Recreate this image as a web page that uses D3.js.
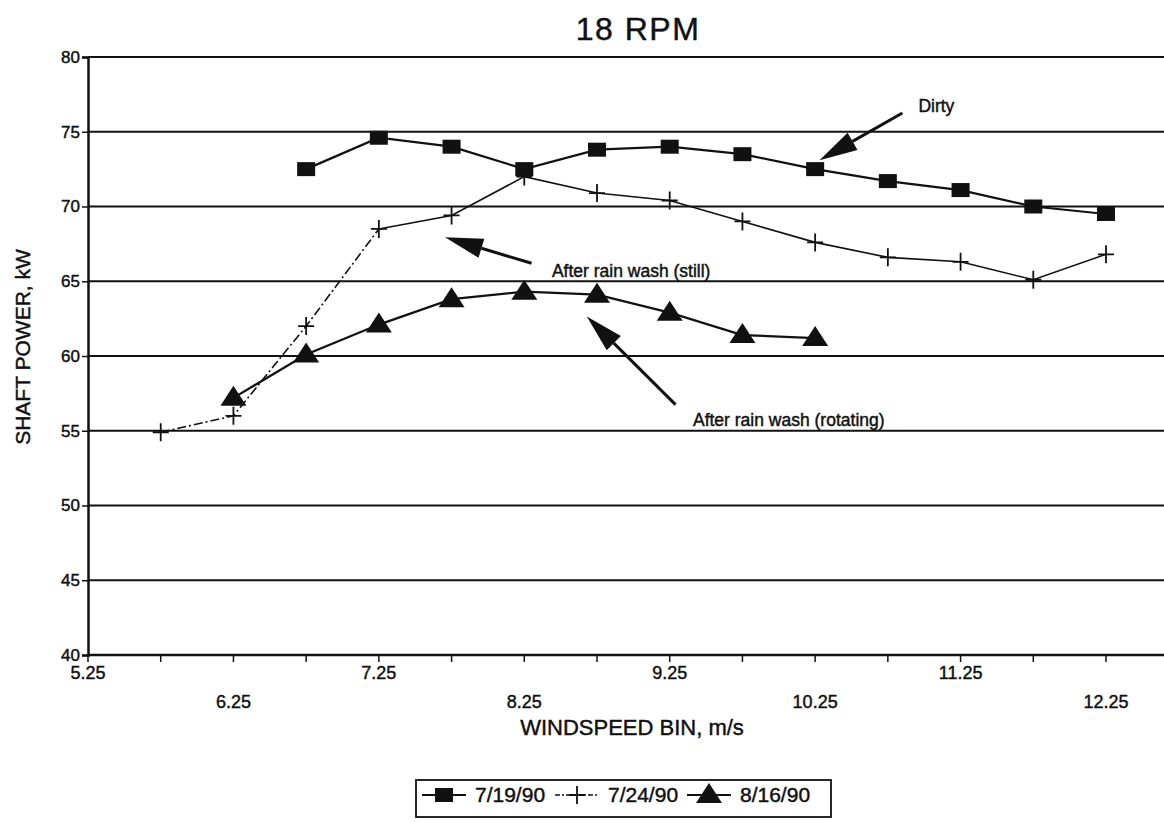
<!DOCTYPE html>
<html>
<head>
<meta charset="utf-8">
<script src="https://cdn.jsdelivr.net/npm/d3@7"></script>
<style>
  body { margin: 0; background: #fff; }
  svg { display: block; font-family: "Liberation Sans", Arial, Helvetica, sans-serif; }
  svg text { fill: #111; stroke: #111; stroke-width: 0.45px; }
  .grid line { stroke: #111; stroke-width: 2; }
</style>
</head>
<body>
<div id="chart"></div>
<script>
// wind speed bins (m/s) and shaft power (kW) per test date
var windBins = [5.75, 6.25, 6.75, 7.25, 7.75, 8.25, 8.75, 9.25, 9.75, 10.25, 10.75, 11.25, 11.75, 12.25]
var power0719 = [null, null, 72.5, 74.6, 74.0, 72.5, 73.8, 74.0, 73.5, 72.5, 71.7, 71.1, 70.0, 69.5]
var power0724 = [54.9, 56.0, 62.0, 68.5, 69.4, 72.0, 70.9, 70.4, 69.0, 67.6, 66.6, 66.3, 65.1, 66.8]
var power0816 = [null, 57.2, 60.1, 62.1, 63.8, 64.3, 64.1, 62.9, 61.4, 61.2, null, null, null, null]

var seriesNames = ['7/19/90', '7/24/90', '8/16/90']

var xTickLabels = [5.25, 6.25, 7.25, 8.25, 9.25, 10.25, 11.25, 12.25]
var xMinorTicks = [5.25, 5.75, 6.25, 6.75, 7.25, 7.75, 8.25, 8.75, 9.25, 9.75, 10.25, 10.75, 11.25, 11.75, 12.25]
var yTicks = [40, 45, 50, 55, 60, 65, 70, 75, 80]

// callouts, anchored in data units: [x, kW]
var notes = [
  {text: 'Dirty', at: [10.96, 76.3], tail: [10.85, 76.25], tip: [10.28, 73.1]},
  {text: 'After rain wash (still)', at: [8.44, 65.26], tail: [8.30, 66.2], tip: [7.705, 67.94]},
  {text: 'After rain wash (rotating)', at: [9.41, 55.34], tail: [9.29, 56.75], tip: [8.68, 62.65]}
]

var width = 1164, height = 822
var x = d3.scaleLinear().domain([5.25, 12.25]).range([88, 1106])
var y = d3.scaleLinear().domain([40, 80]).range([655, 57])

var svg = d3.select('#chart').append('svg')
    .attr('width', width)
    .attr('height', height)

// title
svg.append('text')
    .attr('x', 638).attr('y', 40)
    .attr('text-anchor', 'middle')
    .style('font-size', '32px')
    .style('letter-spacing', '1.5px')
    .text('18 RPM')

// horizontal grid lines
svg.append('g').attr('class', 'grid')
    .selectAll('line')
    .data(yTicks.slice(1))
    .enter().append('line')
    .attr('x1', x(5.25)).attr('x2', width)
    .attr('y1', function(d){ return y(d) })
    .attr('y2', function(d){ return y(d) })

// y axis
var yAxis = d3.axisLeft(y).tickValues(yTicks).tickSize(6).tickPadding(2)
var gy = svg.append('g')
    .attr('transform', 'translate(' + x(5.25) + ',0)')
    .call(yAxis)
gy.select('.domain').attr('stroke', '#111').attr('stroke-width', 2.5)
gy.selectAll('.tick line').attr('stroke', '#111').attr('stroke-width', 1.5)
gy.selectAll('.tick text').style('font-size', '17px')

// x axis: baseline and minor ticks
var gx = svg.append('g').attr('transform', 'translate(0,' + y(40) + ')')
gx.append('line')
    .attr('x1', x(5.25)).attr('x2', width)
    .attr('stroke', '#111').attr('stroke-width', 2.5)
gx.selectAll('.mtick')
    .data(xMinorTicks)
    .enter().append('line')
    .attr('class', 'mtick')
    .attr('x1', function(d){ return x(d) }).attr('x2', function(d){ return x(d) })
    .attr('y1', 0).attr('y2', 7)
    .attr('stroke', '#111').attr('stroke-width', 1.5)
gx.selectAll('.xlab')
    .data(xTickLabels)
    .enter().append('text')
    .attr('class', 'xlab')
    .attr('x', function(d){ return x(d) })
    .attr('y', function(d, i){ return i % 2 === 0 ? 24 : 53 })
    .attr('text-anchor', 'middle')
    .style('font-size', '18px')
    .text(function(d){ return d.toFixed(2) })

// axis titles
svg.append('text')
    .attr('x', 632).attr('y', 735)
    .attr('text-anchor', 'middle')
    .style('font-size', '22px')
    .text('WINDSPEED BIN, m/s')
svg.append('text')
    .attr('transform', 'translate(30,347) rotate(-90)')
    .attr('text-anchor', 'middle')
    .style('font-size', '21px')
    .text('SHAFT POWER, kW')

// marker shapes
function drawMarker(sel, kind) {
  if (kind === 'square') {
    sel.append('rect').attr('x', -9).attr('y', -7).attr('width', 18).attr('height', 14).attr('fill', '#111')
  } else if (kind === 'plus') {
    sel.append('path').attr('d', 'M-8,0H8M0,-9V9').attr('stroke', '#111').attr('stroke-width', 1.8).attr('fill', 'none')
  } else {
    sel.append('path').attr('d', 'M0,-12L13,8L-13,8Z').attr('fill', '#111')
  }
}

function toPoints(vals) {
  return windBins.map(function(b, i){ return {x: b, v: vals[i]} })
                 .filter(function(d){ return d.v !== null })
}

var line = d3.line().x(function(d){ return x(d.x) }).y(function(d){ return y(d.v) })

var series = [
  {name: seriesNames[0], pts: toPoints(power0719), marker: 'square', width: 2.2},
  {name: seriesNames[1], pts: toPoints(power0724), marker: 'plus', width: 1.6},
  {name: seriesNames[2], pts: toPoints(power0816), marker: 'triangle', width: 2.2}
]

var plot = svg.append('g')

series.forEach(function(s) {
  if (s.marker === 'plus') {
    // rising part drawn dash-dot, remainder solid
    plot.append('path')
        .attr('d', line(s.pts.filter(function(d){ return d.x <= 7.25 })))
        .attr('fill', 'none').attr('stroke', '#111').attr('stroke-width', s.width)
        .attr('stroke-dasharray', '9,3,2,3')
    plot.append('path')
        .attr('d', line(s.pts.filter(function(d){ return d.x >= 7.25 })))
        .attr('fill', 'none').attr('stroke', '#111').attr('stroke-width', s.width)
  } else {
    plot.append('path')
        .attr('d', line(s.pts))
        .attr('fill', 'none').attr('stroke', '#111').attr('stroke-width', s.width)
  }
  plot.selectAll(null)
      .data(s.pts)
      .enter().append('g')
      .attr('transform', function(d){ return 'translate(' + x(d.x) + ',' + y(d.v) + ')' })
      .each(function(){ drawMarker(d3.select(this), s.marker) })
})

// callouts with filled arrowheads
var ng = svg.append('g')
notes.forEach(function(n) {
  var tx = x(n.tail[0]), ty = y(n.tail[1])
  var px = x(n.tip[0]), py = y(n.tip[1])
  var ang = Math.atan2(ty - py, tx - px)
  var len = 38, half = 10
  var bx = px + Math.cos(ang) * len, by = py + Math.sin(ang) * len
  ng.append('line')
      .attr('x1', tx).attr('y1', ty).attr('x2', bx).attr('y2', by)
      .attr('stroke', '#111').attr('stroke-width', 3)
  var nx = -Math.sin(ang) * half, ny = Math.cos(ang) * half
  ng.append('path')
      .attr('d', 'M' + px + ',' + py + 'L' + (bx + nx) + ',' + (by + ny) + 'L' + (bx - nx) + ',' + (by - ny) + 'Z')
      .attr('fill', '#111')
  ng.append('text')
      .attr('x', x(n.at[0])).attr('y', y(n.at[1]))
      .style('font-size', '17.5px')
      .text(n.text)
})

// legend
var lg = svg.append('g').attr('transform', 'translate(416,780)')
lg.append('rect')
    .attr('width', 415).attr('height', 37)
    .attr('fill', '#fff').attr('stroke', '#111').attr('stroke-width', 1.8)
var itemX = [6, 139, 271]
series.forEach(function(s, i) {
  var g = lg.append('g').attr('transform', 'translate(' + itemX[i] + ',15)')
  g.append('line').attr('x1', 0).attr('x2', 44)
      .attr('stroke', '#111').attr('stroke-width', s.width)
      .attr('stroke-dasharray', s.marker === 'plus' ? '5,2,2,2' : null)
  drawMarker(g.append('g').attr('transform', 'translate(22,0)'), s.marker)
  g.append('text').attr('x', 53).attr('y', 7)
      .style('font-size', '21px')
      .text(s.name)
})
</script>
</body>
</html>
